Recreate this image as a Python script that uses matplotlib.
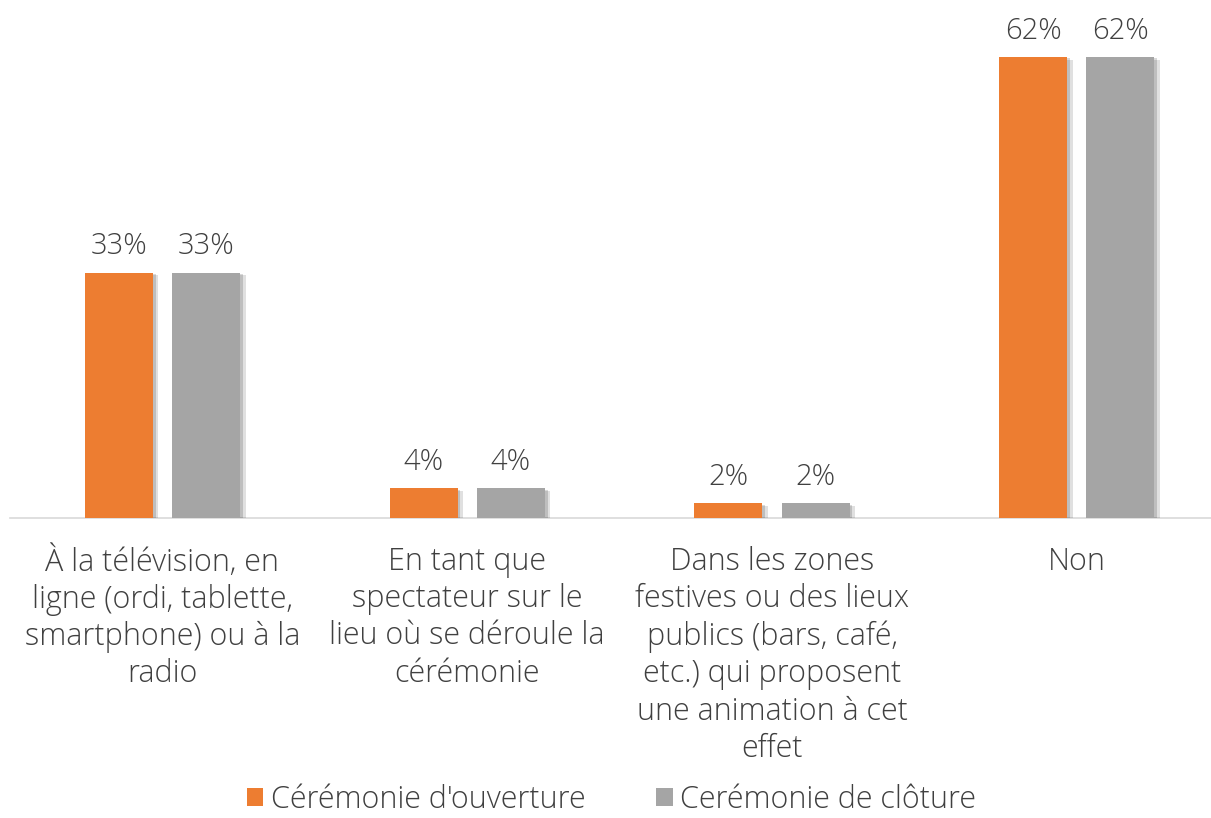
import numpy as np
import matplotlib.pyplot as plt
import matplotlib.patheffects as pe

plt.rcParams['font.family'] = ['Open Sans', 'DejaVu Sans']

categories = [
    "À la télévision, en\nligne (ordi, tablette,\nsmartphone) ou à la\nradio",
    "En tant que\nspectateur sur le\nlieu où se déroule la\ncérémonie",
    "Dans les zones\nfestives ou des lieux\npublics (bars, café,\netc.) qui proposent\nune animation à cet\neffet",
    "Non",
]
ouverture = [33, 4, 2, 62]
cloture = [33, 4, 2, 62]
series_names = ["Cérémonie d'ouverture", "Cerémonie de clôture"]
colors = ['#ED7D31', '#A5A5A5']
text_color = '#404040'

fig = plt.figure(figsize=(12.11, 8.18), dpi=100)
ax = fig.add_axes([10 / 1211, 300 / 818, 1 - 10 / 1211, 508 / 818])

x = np.arange(len(categories))
w = 0.223
off = 0.143
shadow = [pe.SimplePatchShadow(offset=(4, -2), shadow_rgbFace='#000000', alpha=0.12),
          pe.SimplePatchShadow(offset=(2, -1), shadow_rgbFace='#000000', alpha=0.15),
          pe.Normal()]

for vals, sign, col, name in [(ouverture, -1, colors[0], series_names[0]),
                              (cloture, 1, colors[1], series_names[1])]:
    bars = ax.bar(x + sign * off, vals, width=w, color=col, label=name, zorder=3)
    for b in bars:
        b.set_path_effects(shadow)
    for xi, v in zip(x + sign * off, vals):
        ax.text(xi, v + 1.5, f"{v}%", ha='center', va='bottom', fontsize=21,
                color=text_color, fontweight='light')

ax.set_xlim(-0.5, 3.44)
ax.set_ylim(0, 68.3)
ax.set_yticks([])
ax.set_xticks(x)
ax.set_xticklabels(categories, fontsize=22, color=text_color, linespacing=1.22,
                   fontweight='light')
ax.tick_params(axis='x', length=0, pad=20)
for s in ['top', 'right', 'left']:
    ax.spines[s].set_visible(False)
ax.spines['bottom'].set_color('#D9D9D9')
ax.spines['bottom'].set_linewidth(1.2)

leg = fig.legend(loc='center', bbox_to_anchor=(0.505, 18 / 818), ncol=2, frameon=False,
                 prop={'size': 22, 'weight': 'light'},
                 handlelength=0.55, handleheight=0.55, handletextpad=0.25, columnspacing=2.3)
for t in leg.get_texts():
    t.set_color(text_color)
for h in leg.legend_handles:
    h.set_path_effects([])

fig.savefig('out.png', dpi=100)
